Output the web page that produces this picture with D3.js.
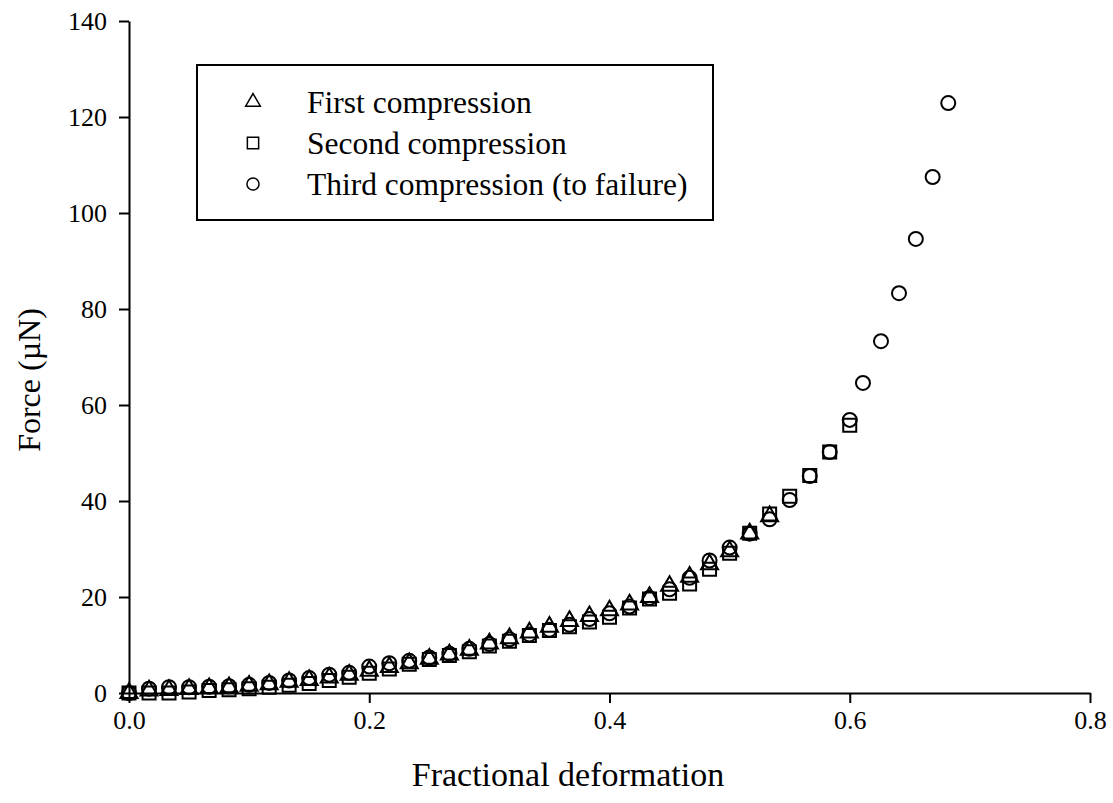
<!DOCTYPE html>
<html>
<head>
<meta charset="utf-8">
<script src="https://cdn.jsdelivr.net/npm/d3@7"></script>
<style>
  html, body { margin: 0; padding: 0; background: #fff; }
  svg { display: block; }
  text { font-family: "Liberation Serif", "Times New Roman", serif; fill: #000; }
</style>
</head>
<body>
<svg id="chart" width="1113" height="803"></svg>
<script>
// Fractional deformation sampled at a fixed step for the first 37 readings
const deformationStep = [0, 0.0167, 0.0333, 0.05, 0.0667, 0.0833, 0.1, 0.1167, 0.1333, 0.15,
  0.1667, 0.1833, 0.2, 0.2167, 0.2333, 0.25, 0.2667, 0.2833, 0.3, 0.3167,
  0.3333, 0.35, 0.3667, 0.3833, 0.4, 0.4167, 0.4333, 0.45, 0.4667, 0.4833,
  0.5, 0.5167, 0.5333, 0.55, 0.5667, 0.5833, 0.6];

// Extra readings taken near failure during the third compression
const deformationFailure = [0.611, 0.626, 0.641, 0.655, 0.669, 0.682];

// Force (µN)
const firstForce = [0, 0.5, 0.6, 0.8, 1.0, 1.2, 1.5, 1.8, 2.3, 2.7,
  3.2, 3.8, 4.6, 5.4, 6.2, 7.1, 8.0, 9.0, 10.3, 11.4,
  12.6, 13.8, 15.0, 16.0, 17.2, 18.4, 20.0, 22.3, 24.2, 26.8,
  29.5, 33.2, 36.8];

const secondForce = [0, 0.0, 0.0, 0.2, 0.5, 0.7, 0.9, 1.2, 1.6, 2.0,
  2.6, 3.3, 4.1, 5.0, 6.0, 7.0, 7.8, 8.6, 9.8, 10.8,
  12.0, 13.0, 13.8, 14.8, 15.8, 17.7, 19.6, 20.8, 22.7, 25.8,
  29.1, 33.3, 37.3, 41.0, 45.3, 50.2, 55.8];

const thirdForce = [0, 0.9, 1.2, 1.2, 1.3, 1.4, 1.7, 2.1, 2.6, 3.1,
  3.8, 4.2, 5.5, 6.2, 6.7, 7.4, 8.2, 9.2, 10.2, 11.2,
  12.2, 13.2, 14.2, 15.4, 16.6, 18.0, 19.8, 21.6, 24.0, 27.6,
  30.3, 33.2, 36.2, 40.2, 45.2, 50.2, 56.9];
const thirdForceFailure = [64.6, 73.3, 83.3, 94.6, 107.5, 122.9];

const xTicks = [0.0, 0.2, 0.4, 0.6, 0.8];
const yTicks = [0, 20, 40, 60, 80, 100, 120, 140];

const seriesNames = ["First compression", "Second compression", "Third compression (to failure)"];

const svg = d3.select("#chart");

const x = d3.scaleLinear().domain([0, 0.8]).range([129, 1090]);
const y = d3.scaleLinear().domain([0, 140]).range([693, 21]);

// Build point lists per series
const thirdX = deformationStep.concat(deformationFailure);
const thirdY = thirdForce.concat(thirdForceFailure);
const series = [
  { name: seriesNames[0], type: d3.symbolTriangle, size: 125,
    pts: firstForce.map((v, i) => [deformationStep[i], v]) },
  { name: seriesNames[1], type: d3.symbolSquare, size: 169,
    pts: secondForce.map((v, i) => [deformationStep[i], v]) },
  { name: seriesNames[2], type: d3.symbolCircle, size: Math.PI * 49,
    pts: thirdY.map((v, i) => [thirdX[i], v]) }
];

// Axes
const xAxis = d3.axisBottom(x).tickValues(xTicks).tickFormat(d3.format(".1f"))
  .tickSizeInner(10).tickSizeOuter(0).tickPadding(8);
const yAxis = d3.axisLeft(y).tickValues(yTicks).tickFormat(d3.format("d"))
  .tickSizeInner(10).tickSizeOuter(0).tickPadding(12);

const gx = svg.append("g").attr("transform", "translate(0,693)").call(xAxis);
const gy = svg.append("g").attr("transform", "translate(129,0)").call(yAxis);

[gx, gy].forEach(g => {
  g.select(".domain").attr("stroke", "#000").attr("stroke-width", 2);
  g.selectAll(".tick line").attr("stroke", "#000").attr("stroke-width", 2);
  g.selectAll(".tick text").attr("font-size", 26)
    .attr("font-family", "Liberation Serif, Times New Roman, serif").attr("fill", "#000");
});

// Axis titles
svg.append("text")
  .attr("x", 568).attr("y", 786)
  .attr("text-anchor", "middle")
  .attr("font-size", 34)
  .text("Fractional deformation");

svg.append("text")
  .attr("transform", "translate(40,380) rotate(-90)")
  .attr("text-anchor", "middle")
  .attr("font-size", 32)
  .text("Force (µN)");

// Data markers
const markers = svg.append("g");
series.forEach(s => {
  const sym = d3.symbol().type(s.type).size(s.size);
  markers.append("g").selectAll("path")
    .data(s.pts)
    .join("path")
    .attr("d", sym)
    .attr("transform", d => `translate(${x(d[0])},${y(d[1])})`)
    .attr("fill", "none")
    .attr("stroke", "#000")
    .attr("stroke-width", 2);
});

// Legend
const legend = svg.append("g");
legend.append("rect")
  .attr("x", 197).attr("y", 65).attr("width", 516).attr("height", 155)
  .attr("fill", "#fff").attr("stroke", "#000").attr("stroke-width", 2);

const rowY = [102, 143, 184];
series.forEach((s, i) => {
  const sym = d3.symbol().type(s.type).size(s.size * 0.75);
  legend.append("path")
    .attr("d", sym)
    .attr("transform", `translate(253,${rowY[i]})`)
    .attr("fill", "none").attr("stroke", "#000").attr("stroke-width", 1.5);
  legend.append("text")
    .attr("x", 307).attr("y", rowY[i] + 11)
    .attr("font-size", 31.5)
    .text(s.name);
});
</script>
</body>
</html>
